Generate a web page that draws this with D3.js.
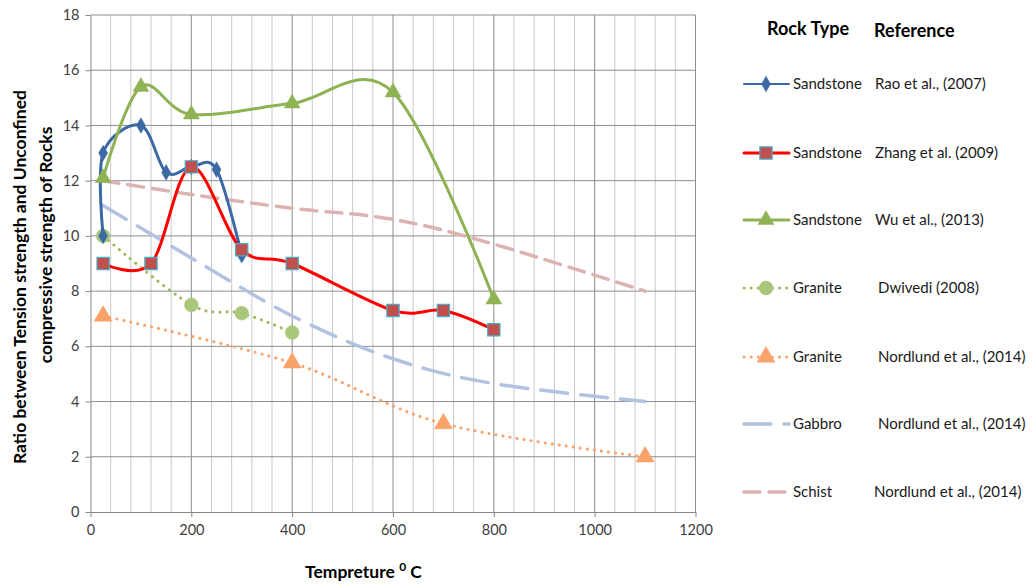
<!DOCTYPE html>
<html>
<head>
<meta charset="utf-8">
<script src="https://cdn.jsdelivr.net/npm/d3@7"></script>
<style>
  body { margin: 0; background: #fff; }
  svg { font-family: Lato, "Liberation Sans", sans-serif; }
</style>
</head>
<body>
<script>
// data
var xTicks = [0, 200, 400, 600, 800, 1000, 1200];
var yTicks = [0, 2, 4, 6, 8, 10, 12, 14, 16, 18];

var raoX = [25, 25, 100, 150, 200, 250, 300];
var raoY = [10, 13, 14, 12.3, 12.5, 12.4, 9.3];

var zhangX = [25, 120, 200, 300, 400, 600, 700, 800];
var zhangY = [9, 9, 12.5, 9.5, 9, 7.3, 7.3, 6.6];

var wuX = [25, 100, 200, 400, 600, 800];
var wuY = [12.1, 15.4, 14.4, 14.8, 15.2, 7.7];

var dwivediX = [25, 200, 300, 400];
var dwivediY = [10, 7.5, 7.2, 6.5];

var nordGraniteX = [25, 400, 700, 1100];
var nordGraniteY = [7.1, 5.4, 3.2, 2.0];

var gabbroX = [25, 200, 400, 600, 800, 1100];
var gabbroY = [11.1, 9.2, 7.1, 5.55, 4.65, 4.0];

var schistX = [25, 200, 400, 600, 800, 1100];
var schistY = [12.0, 11.5, 11.0, 10.6, 9.7, 8.0];

var rockTypes = ["Sandstone", "Sandstone", "Sandstone", "Granite", "Granite", "Gabbro", "Schist"];
var references = ["Rao et al., (2007)", "Zhang et al. (2009)", "Wu et al., (2013)", "Dwivedi (2008)",
  "Nordlund et al., (2014)", "Nordlund et al., (2014)", "Nordlund et al., (2014)"];

var width = 1032, height = 585;
var plot = {left: 90.5, right: 695.5, top: 15, bottom: 512};

var svg = d3.select("body").append("svg")
  .attr("width", width)
  .attr("height", height);

var x = d3.scaleLinear().domain([0, 1200]).range([plot.left, plot.right]);
var y = d3.scaleLinear().domain([0, 18]).range([plot.bottom, plot.top]);

// grid
var grid = svg.append("g");
grid.selectAll("line.vminor")
  .data(d3.range(40, 1201, 40).filter(v => v % 200 != 0))
  .enter().append("line")
  .attr("x1", d => x(d)).attr("x2", d => x(d))
  .attr("y1", y(0)).attr("y2", y(18))
  .style("stroke", "#c9c9c9").style("stroke-width", 1);
grid.selectAll("line.vmajor")
  .data(xTicks.slice(1))
  .enter().append("line")
  .attr("x1", d => x(d)).attr("x2", d => x(d))
  .attr("y1", y(0)).attr("y2", y(18))
  .style("stroke", "#8e8e8e").style("stroke-width", 1);
grid.selectAll("line.h")
  .data(yTicks.slice(1))
  .enter().append("line")
  .attr("x1", x(0)).attr("x2", x(1200))
  .attr("y1", d => y(d)).attr("y2", d => y(d))
  .style("stroke", "#8e8e8e").style("stroke-width", 1);

// axes
var yAxis = d3.axisLeft(y).tickValues(yTicks).tickSizeInner(5).tickSizeOuter(0).tickPadding(6);
var xAxis = d3.axisBottom(x).tickValues(xTicks).tickFormat(d3.format("d"))
  .tickSizeInner(5).tickSizeOuter(0).tickPadding(8);

var gy = svg.append("g").attr("transform", "translate(" + plot.left + ",0)").call(yAxis);
var gx = svg.append("g").attr("transform", "translate(0," + plot.bottom + ")").call(xAxis);
[gx, gy].forEach(function(g) {
  g.selectAll("path, line").style("stroke", "#868686");
  g.selectAll("text").style("font-size", "14.5px").style("fill", "#404040")
    .style("font-family", "Lato, sans-serif");
});

// series styles
var series = [
  {xs: raoX, ys: raoY, color: "#3c68a4", width: 3, dash: null, marker: "diamond", mfill: "#3c68a4", mstroke: "#3c68a4", msize: 70},
  {xs: zhangX, ys: zhangY, color: "#ff0000", width: 3, dash: null, marker: "square", mfill: "#c0504d", mstroke: "#4bacc6", msize: 150},
  {xs: wuX, ys: wuY, color: "#8fb255", width: 3, dash: null, marker: "triangle", mfill: "#8fb255", mstroke: "#8fb255", msize: 110},
  {xs: dwivediX, ys: dwivediY, color: "#9bbb59", width: 3, dash: "0.1 7", marker: "circle", mfill: "#a9c77b", mstroke: "#a9c77b", msize: 150},
  {xs: nordGraniteX, ys: nordGraniteY, color: "#f9a36a", width: 3, dash: "0.1 7", marker: "triangle", mfill: "#f9a36a", mstroke: "#f9a36a", msize: 140},
  {xs: gabbroX, ys: gabbroY, color: "#b1c3e0", width: 3.5, dash: "27 13", marker: null},
  {xs: schistX, ys: schistY, color: "#ddb3b2", width: 3.5, dash: "16 9", marker: null}
];

var symbolTypes = {diamond: d3.symbolDiamond, square: d3.symbolSquare, triangle: d3.symbolTriangle, circle: d3.symbolCircle};

var line = d3.line()
  .x(d => x(d[0]))
  .y(d => y(d[1]))
  .curve(d3.curveCardinal.tension(0));

// draw back to front like the original
var drawOrder = [6, 5, 4, 3, 0, 1, 2];
drawOrder.forEach(function(i) {
  var s = series[i];
  var pts = s.xs.map((v, k) => [v, s.ys[k]]);
  svg.append("path")
    .datum(pts)
    .attr("d", line)
    .style("fill", "none")
    .style("stroke", s.color)
    .style("stroke-width", s.width)
    .style("stroke-linecap", "round")
    .style("stroke-dasharray", s.dash);
  if (s.marker) {
    svg.append("g").selectAll("path")
      .data(pts)
      .enter().append("path")
      .attr("transform", d => "translate(" + x(d[0]) + "," + y(d[1]) + ")")
      .attr("d", d3.symbol().type(symbolTypes[s.marker]).size(s.msize))
      .style("fill", s.mfill)
      .style("stroke", s.mstroke)
      .style("stroke-width", s.marker == "square" ? 1.2 : 0.5);
  }
});

// axis titles
var ytitle = svg.append("g").style("font-weight", "bold").style("font-size", "17.5px").style("fill", "#000");
ytitle.append("text")
  .attr("transform", "translate(26,277) rotate(-90)")
  .attr("text-anchor", "middle")
  .text("Ratio between  Tension strength and Unconfined");
ytitle.append("text")
  .attr("transform", "translate(52,245) rotate(-90)")
  .attr("text-anchor", "middle")
  .text("compressive strength of Rocks");

var xtitle = svg.append("text")
  .attr("x", 305).attr("y", 578)
  .style("font-weight", "bold").style("font-size", "17.5px");
xtitle.append("tspan").text("Tempreture ");
xtitle.append("tspan").attr("dy", -7).style("font-size", "12px").text("0");
xtitle.append("tspan").attr("dy", 7).text(" C");

// legend
var legendRows = [84, 153, 220, 288, 357, 424, 492];
var refX = [875, 875, 875, 878, 878, 878, 874];
var legend = svg.append("g");
legend.append("text").attr("x", 767).attr("y", 35).style("font-weight", "bold").style("font-size", "18px").text("Rock Type");
legend.append("text").attr("x", 874).attr("y", 37).style("font-weight", "bold").style("font-size", "18px").text("Reference");

series.forEach(function(s, i) {
  var ly = legendRows[i];
  var g = legend.append("g");
  g.append("line")
    .attr("x1", 744).attr("x2", 789)
    .attr("y1", ly).attr("y2", ly)
    .style("stroke", s.color)
    .style("stroke-width", i == 0 ? 2 : s.width)
    .style("stroke-linecap", "round")
    .style("stroke-dasharray", s.dash);
  if (s.marker) {
    g.append("path")
      .attr("transform", "translate(766," + ly + ")")
      .attr("d", d3.symbol().type(symbolTypes[s.marker]).size(s.msize))
      .style("fill", s.mfill)
      .style("stroke", s.mstroke)
      .style("stroke-width", s.marker == "square" ? 1.2 : 0.5);
  }
  g.append("text").attr("x", 793).attr("y", ly + 5).style("font-size", "15px").style("fill", "#1a1a1a").text(rockTypes[i]);
  g.append("text").attr("x", refX[i]).attr("y", ly + 5).style("font-size", "15px").style("fill", "#1a1a1a").text(references[i]);
});
</script>
</body>
</html>
